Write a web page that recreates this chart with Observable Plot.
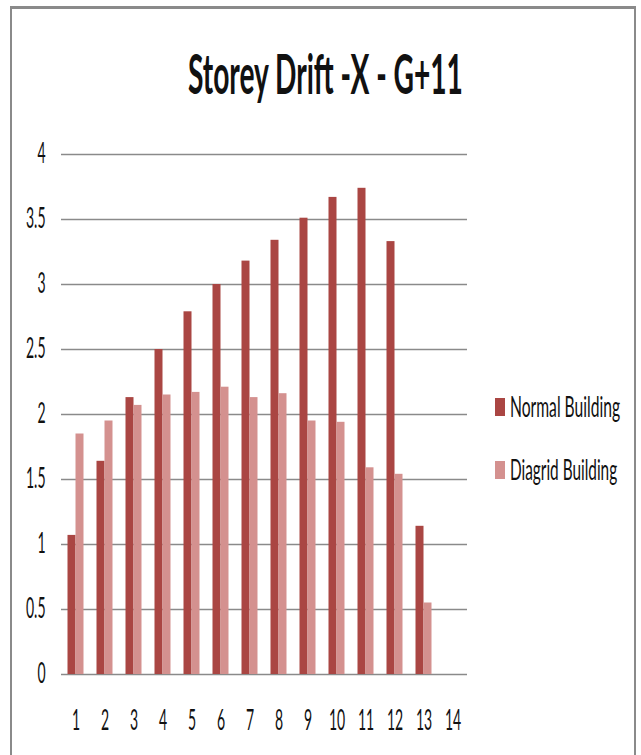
<!DOCTYPE html>
<html>
<head>
<meta charset="utf-8">
<script src="https://cdn.jsdelivr.net/npm/d3@7"></script>
<script src="https://cdn.jsdelivr.net/npm/@observablehq/plot@0.6"></script>
<style>
  body { margin: 0; background: #fff; }
  #chart { position: relative; width: 641px; height: 755px; overflow: hidden; background: #fff; font-family: Lato, "Open Sans", sans-serif; color: #111; }
  #frame { position: absolute; left: 10px; top: 6px; width: 622px; height: 800px; border-top: 3px solid #8a8a8a; border-left: 2px solid #8a8a8a; border-right: 2px solid #8a8a8a; box-sizing: content-box; }
  #plot { position: absolute; left: 0; top: 0; }
  #title { position: absolute; left: 5px; top: 45px; width: 641px; text-align: center; font-weight: bold; font-size: 56px; line-height: 56px; white-space: nowrap; }
  #title span { display: inline-block; transform-origin: 50% 50%; }
  .leg { position: absolute; left: 495px; height: 28px; }
  .leg .sw { position: absolute; left: 0; width: 10px; height: 18px; }
  .leg .lb { position: absolute; left: 15px; top: 0; font-size: 28px; line-height: 28px; white-space: nowrap; display: inline-block; transform-origin: 0 50%; }
</style>
</head>
<body>
<div id="chart">
  <div id="frame"></div>
  <div id="plot"></div>
  <div id="title"><span>Storey Drift -X - G+11</span></div>
</div>
<script>
// ---- data ----
const titleText = "Storey Drift -X - G+11";
const storeys = [1, 2, 3, 4, 5, 6, 7, 8, 9, 10, 11, 12, 13, 14];
const seriesNames = ["Normal Building", "Diagrid Building"];
const normal  = [1.07, 1.64, 2.13, 2.50, 2.79, 3.00, 3.18, 3.34, 3.51, 3.67, 3.74, 3.33, 1.14, null];
const diagrid = [1.85, 1.95, 2.07, 2.15, 2.17, 2.21, 2.13, 2.16, 1.95, 1.94, 1.59, 1.54, 0.55, null];
const yTicks = [0, 0.5, 1, 1.5, 2, 2.5, 3, 3.5, 4];
const colors = ["#AA4643", "#D4918F"];

const rows = [];
storeys.forEach((s, i) => {
  if (normal[i] != null) rows.push({ storey: s, series: seriesNames[0], value: normal[i] });
  if (diagrid[i] != null) rows.push({ storey: s, series: seriesNames[1], value: diagrid[i] });
});

const plot = Plot.plot({
  width: 641,
  height: 755,
  marginTop: 154,
  marginBottom: 81,
  marginLeft: 61,
  marginRight: 174,
  style: { fontFamily: "Lato, 'Open Sans', sans-serif", fontSize: "28px", color: "#111", background: "transparent" },
  x: { domain: storeys, padding: 0, axis: null },
  y: { domain: [0, 4], axis: null },
  marks: [
    Plot.ruleY(yTicks, { stroke: "#8a8a8a", strokeWidth: 1.6 }),
    Plot.barY(rows.filter(d => d.series === seriesNames[0]), {
      x: "storey", y: "value", fill: colors[0], insetLeft: 6.5, insetRight: 14.5
    }),
    Plot.barY(rows.filter(d => d.series === seriesNames[1]), {
      x: "storey", y: "value", fill: colors[1], insetLeft: 14.5, insetRight: 6.5
    }),
    Plot.axisY(yTicks, { tickSize: 0, tickPadding: 16, line: true, stroke: "#8a8a8a", fill: "#111", fontSize: 28, label: null, tickFormat: d => String(d) }),
    Plot.axisX({ tickSize: 0, tickPadding: 36, fill: "#111", fontSize: 28, label: null })
  ]
});
document.getElementById("plot").appendChild(plot);

// condense tick labels horizontally (the reference font is very narrow)
plot.querySelectorAll('[aria-label="y-axis tick label"] text, [aria-label="x-axis tick label"] text').forEach(t => {
  const tr = t.getAttribute("transform") || "";
  t.setAttribute("transform", tr + " scale(0.5,1)");
});

// title condensed to match the reference width
const tspan = document.querySelector("#title span");
tspan.style.transform = `scaleX(${275 / tspan.offsetWidth})`;

// legend
const chart = document.getElementById("chart");
const legTops = [392, 455];
const legWidths = [110, 107];
seriesNames.forEach((name, i) => {
  const row = document.createElement("div");
  row.className = "leg";
  row.style.top = legTops[i] + "px";
  const sw = document.createElement("span");
  sw.className = "sw";
  sw.style.background = colors[i];
  sw.style.top = "6px";
  const lb = document.createElement("span");
  lb.className = "lb";
  lb.textContent = name;
  row.appendChild(sw);
  row.appendChild(lb);
  chart.appendChild(row);
  lb.style.transform = `scaleX(${legWidths[i] / lb.offsetWidth})`;
});
</script>
</body>
</html>
